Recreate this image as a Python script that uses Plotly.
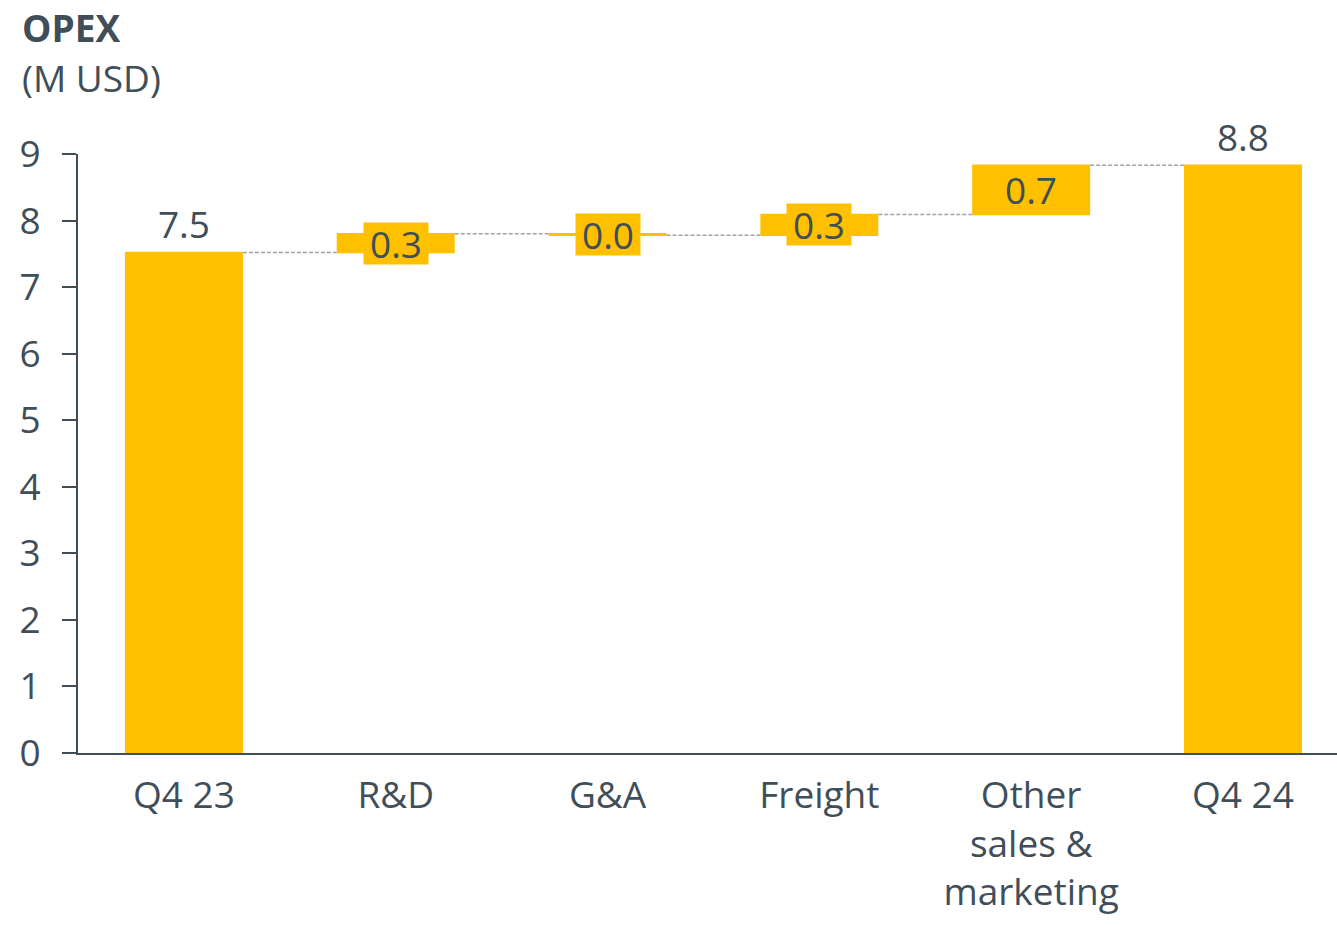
import plotly.graph_objects as go

categories = ["Q4 23", "R&D", "G&A", "Freight", "Other<br>sales &<br>marketing", "Q4 24"]
measures = ["absolute", "relative", "relative", "relative", "relative", "total"]
values = [7.52, 0.28, -0.02, 0.31, 0.74, 0]
labels = ["7.5", "0.3", "0.0", "0.3", "0.7", "8.8"]
y_ticks = [0, 1, 2, 3, 4, 5, 6, 7, 8, 9]

YELLOW = "#FFC000"
TEXT = "#3F4E58"
FONT = "Open Sans"
FS = 37

W, H = 1337, 926
L, T, B = 78, 154, 173

fig = go.Figure()

outside_text = [lab if m in ("absolute", "total") else "" for lab, m in zip(labels, measures)]

fig.add_trace(go.Waterfall(
    x=list(range(len(categories))),
    y=values,
    measure=measures,
    width=0.557,
    text=outside_text,
    textposition="outside",
    textfont=dict(family=FONT, size=FS, color=TEXT),
    cliponaxis=False,
    increasing=dict(marker=dict(color=YELLOW)),
    decreasing=dict(marker=dict(color=YELLOW)),
    totals=dict(marker=dict(color=YELLOW)),
    connector=dict(mode="between", line=dict(color="#9EA3A8", width=1.5, dash="4px,2px")),
    showlegend=False,
    hoverinfo="skip",
))

# labels for relative bars, centred on the bar with yellow background
running = 0.0
for i, (m, v, lab) in enumerate(zip(measures, values, labels)):
    if m == "absolute":
        running = v
    elif m == "relative":
        mid = running + v / 2
        running += v
        fig.add_annotation(
            x=i, y=mid, xref="x", yref="y", text=lab, showarrow=False,
            font=dict(family=FONT, size=FS, color=TEXT),
            bgcolor=YELLOW, borderpad=0, width=64, height=41,
            xanchor="center", yanchor="middle",
        )

plot_h = H - T - B
fig.add_annotation(
    x=(20 - L) / (W - L), y=1 + T / plot_h, xref="paper", yref="paper",
    text="<b>OPEX</b>", showarrow=False, xanchor="left", yanchor="top",
    font=dict(family=FONT, size=FS, color=TEXT),
)
fig.add_annotation(
    x=(20 - L) / (W - L), y=1 + (T - 77) / plot_h, xref="paper", yref="paper",
    text="(M USD)", showarrow=False, xanchor="left", yanchor="middle",
    font=dict(family=FONT, size=FS, color=TEXT),
)

fig.update_layout(
    width=W, height=H,
    margin=dict(l=L, r=0, t=T, b=B, pad=0),
    paper_bgcolor="white", plot_bgcolor="white",
    font=dict(family=FONT, size=FS, color=TEXT),
    xaxis=dict(
        tickmode="array", tickvals=list(range(len(categories))), ticktext=categories,
        range=[-0.5, 5.444], showgrid=False, zeroline=False,
        showline=True, linecolor=TEXT, linewidth=2, ticks="",
        ticklabelstandoff=9,
        tickfont=dict(family=FONT, size=FS, color=TEXT),
    ),
    yaxis=dict(
        range=[0, 9], tickvals=y_ticks, showgrid=False, zeroline=False,
        showline=True, linecolor=TEXT, linewidth=2,
        ticks="outside", ticklen=14, tickwidth=2, tickcolor=TEXT,
        ticklabelstandoff=14,
        tickfont=dict(family=FONT, size=FS, color=TEXT),
    ),
)

fig.write_html("out.html")
